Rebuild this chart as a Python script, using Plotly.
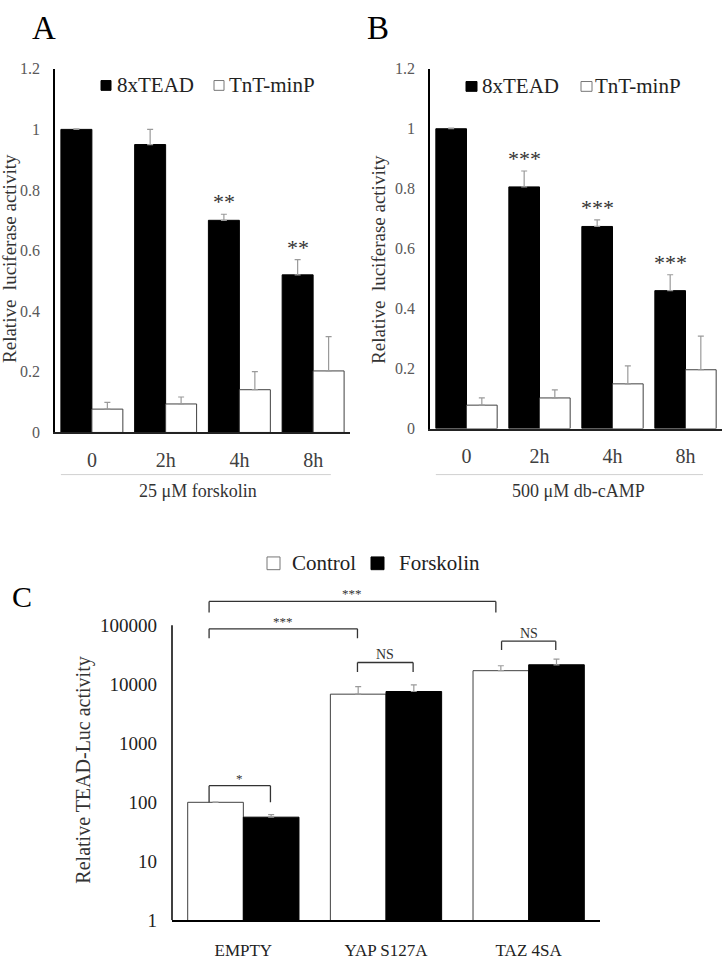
import math
import plotly.graph_objects as go

FONT = "Liberation Serif"

# ---------------- data ----------------
time_labels = ["0", "2h", "4h", "8h"]

a_tead = [1.00, 0.95, 0.70, 0.52]
a_tead_err = [0.002, 0.05, 0.02, 0.05]
a_tnt = [0.077, 0.094, 0.141, 0.203]
a_tnt_err = [0.022, 0.023, 0.06, 0.113]
a_sig = ["", "", "**", "**"]

b_tead = [1.00, 0.806, 0.674, 0.46]
b_tead_err = [0.002, 0.053, 0.022, 0.053]
b_tnt = [0.078, 0.102, 0.149, 0.196]
b_tnt_err = [0.024, 0.027, 0.06, 0.112]
b_sig = ["", "***", "***", "***"]

c_groups = ["EMPTY", "YAP S127A", "TAZ 4SA"]
c_control = [100, 6800, 17000]
c_control_err = [1, 2300, 3600]
c_forsk = [56, 7540, 21400]
c_forsk_err = [6, 2200, 5200]
c_tick_vals = [1, 10, 100, 1000, 10000, 100000]
c_tick_text = ["1", "10", "100", "1000", "10000", "100000"]

# significance brackets for panel C: (x start, x end, top, leg bottom, label)
c_brackets = [
    (-0.24, 1.77, 254000, 164000, "***"),
    (-0.24, 0.80, 87100, 60300, "***"),
    (-0.24, 0.19, 191, 100, "*"),
    (0.80, 1.19, 23400, 16200, "NS"),
    (1.81, 2.19, 53700, 38000, "NS"),
]

W_AB = 0.42
W_C = 0.39
ERR_COLOR = "#9a9a9a"
H = 962
Wd = 725


def px(x):
    return x / Wd


def py(y):
    return 1 - y / H


fig = go.Figure()


def add_time_panel(xa, ya, tead, tead_err, tnt, tnt_err):
    xs = list(range(len(time_labels)))
    fig.add_trace(go.Bar(
        x=xs, y=tead, name="8xTEAD", width=W_AB, offset=-W_AB,
        marker=dict(color="black", line=dict(color="black", width=1)),
        error_y=dict(type="data", symmetric=False, array=tead_err,
                     arrayminus=[0] * len(tead), color=ERR_COLOR,
                     thickness=1.2, width=3),
        xaxis=xa, yaxis=ya, showlegend=False))
    fig.add_trace(go.Bar(
        x=xs, y=tnt, name="TnT-minP", width=W_AB, offset=0,
        marker=dict(color="white", line=dict(color="#404040", width=1)),
        error_y=dict(type="data", symmetric=False, array=tnt_err,
                     arrayminus=[0] * len(tnt), color=ERR_COLOR,
                     thickness=1.2, width=3),
        xaxis=xa, yaxis=ya, showlegend=False))


add_time_panel("x", "y", a_tead, a_tead_err, a_tnt, a_tnt_err)
add_time_panel("x2", "y2", b_tead, b_tead_err, b_tnt, b_tnt_err)

xs_c = list(range(len(c_groups)))
fig.add_trace(go.Bar(
    x=xs_c, y=c_control, name="Control", width=W_C, offset=-W_C,
    marker=dict(color="white", line=dict(color="#404040", width=1)),
    error_y=dict(type="data", symmetric=False, array=c_control_err,
                 arrayminus=[0] * 3, color=ERR_COLOR, thickness=1.2, width=3),
    xaxis="x3", yaxis="y3", showlegend=False))
fig.add_trace(go.Bar(
    x=xs_c, y=c_forsk, name="Forskolin", width=W_C, offset=0,
    marker=dict(color="black", line=dict(color="black", width=1)),
    error_y=dict(type="data", symmetric=False, array=c_forsk_err,
                 arrayminus=[0] * 3, color=ERR_COLOR, thickness=1.2, width=3),
    xaxis="x3", yaxis="y3", showlegend=False))

annotations = []
shapes = []

# stars above black bars in A and B
for xa, ya, vals, errs, sig in [("x", "y", a_tead, a_tead_err, a_sig),
                                ("x2", "y2", b_tead, b_tead_err, b_sig)]:
    for i, s in enumerate(sig):
        if s:
            annotations.append(dict(
                x=i - W_AB / 2, y=vals[i] + errs[i], xref=xa, yref=ya,
                text=s, showarrow=False, yanchor="bottom", yshift=-2,
                font=dict(family=FONT, size=22, color="#333")))

# brackets in C
for x0, x1, top, leg, lab in c_brackets:
    for sx0, sy0, sx1, sy1 in [(x0, leg, x0, top), (x0, top, x1, top), (x1, top, x1, leg)]:
        shapes.append(dict(type="line", xref="x3", yref="y3",
                           x0=sx0, y0=sy0, x1=sx1, y1=sy1,
                           line=dict(color="#333", width=1.3)))
    annotations.append(dict(
        x=(x0 + x1) / 2, y=math.log10(top), xref="x3", yref="y3", text=lab,
        showarrow=False, yanchor="bottom", yshift=-2,
        font=dict(family=FONT, size=13 if "*" in lab else 14, color="#333")))

# C left axis line limited to 1..100000
shapes.append(dict(type="line", xref="x3 domain", yref="y3", x0=0, x1=0,
                   y0=c_tick_vals[0], y1=c_tick_vals[-1],
                   line=dict(color="black", width=1.5)))

# separator lines under time labels
for xr in ["x domain", "x2 domain"]:
    shapes.append(dict(type="line", xref=xr, yref="paper", x0=0.02, x1=0.935,
                       y0=py(476), y1=py(476),
                       line=dict(color="#d0d0d0", width=1)))

# legends (square key + label)
legend_keys = [
    # (label, fill, square left, square right, top, bottom, text x, text y)
    ("8xTEAD", "black", 101, 111, 74, 84, 115, 79),
    ("TnT-minP", "white", 214, 224, 74, 84, 227, 79),
    ("8xTEAD", "black", 466, 477, 75, 85, 480, 80),
    ("TnT-minP", "white", 581, 592, 75, 85, 593, 80),
    ("Control", "white", 267, 280, 560, 573, 290, 566),
    ("Forskolin", "black", 371, 384, 560, 573, 397, 566),
]
for lab, fill, l, r, t, b, tx, ty in legend_keys:
    shapes.append(dict(type="rect", xref="paper", yref="paper",
                       x0=px(l), x1=px(r), y0=py(b), y1=py(t),
                       fillcolor=fill,
                       line=dict(color="black" if fill == "black" else "#777", width=1)))
    annotations.append(dict(x=px(tx), y=py(ty), xref="paper", yref="paper",
                            text=lab, showarrow=False, xanchor="left",
                            yanchor="middle",
                            font=dict(family=FONT, size=21, color="#222")))

# panel letters (anchored at their top edge)
for lab, x, size in [("A", 44, 33), ("B", 378, 33)]:
    annotations.append(dict(x=px(x), y=1, xref="paper", yref="paper",
                            text=lab, showarrow=False, xanchor="center",
                            yanchor="top",
                            font=dict(family=FONT, size=size, color="black")))

text_items = [
    ("C", 22, 600, 30, 0, "black"),
    ("25 μM forskolin", 198, 493, 18, 0, "#333"),
    ("500 μM db-cAMP", 578, 493, 18, 0, "#333"),
    ("Relative  luciferase activity", 10, 256, 19, -90, "#333"),
    ("Relative  luciferase activity", 379, 257, 19, -90, "#333"),
    ("Relative TEAD-Luc activity", 84, 778, 20, -90, "#333"),
]
for t, x, y, s, ang, col in text_items:
    annotations.append(dict(x=px(x), y=py(y), xref="paper", yref="paper",
                            text=t.replace("  ", "\u00a0 "), showarrow=False,
                            textangle=ang, xanchor="center", yanchor="middle",
                            font=dict(family=FONT, size=s, color=col)))

common_y = dict(showgrid=False, zeroline=False, ticks="", showline=True,
                linecolor="black", linewidth=1.5,
                tickfont=dict(family=FONT, size=16, color="#595959"),
                ticklabelstandoff=10)
common_x = dict(showgrid=False, zeroline=False, ticks="", showline=True,
                linecolor="#222", linewidth=1.5,
                tickfont=dict(family=FONT, size=20, color="#404040"),
                ticklabelstandoff=9)

fig.update_layout(
    width=725, height=962,
    margin=dict(l=0, r=0, t=0, b=0),
    paper_bgcolor="white", plot_bgcolor="white",
    font=dict(family=FONT),
    barmode="overlay",
    showlegend=False,
    xaxis=dict(domain=[px(55), px(350)], range=[-0.5, 3.5],
               tickvals=list(range(4)), ticktext=time_labels, anchor="y",
               **common_x),
    yaxis=dict(domain=[py(433), py(62)], range=[0, 1.2], dtick=0.2,
               anchor="x", **common_y),
    xaxis2=dict(domain=[px(430), px(722)], range=[-0.5, 3.5],
                tickvals=list(range(4)), ticktext=time_labels, anchor="y2",
                **common_x),
    yaxis2=dict(domain=[py(429), py(62)], range=[0, 1.2], dtick=0.2,
                anchor="x2", **common_y),
    xaxis3=dict(domain=[px(172), px(600)], range=[-0.5, 2.5],
                tickvals=xs_c, ticktext=c_groups, anchor="y3",
                showgrid=False, zeroline=False, ticks="", showline=True,
                linecolor="black", linewidth=2,
                tickfont=dict(family=FONT, size=17, color="#222"),
                ticklabelstandoff=13),
    yaxis3=dict(domain=[py(930.7), py(930.7 - 5.5 * 60.2)], type="log",
                range=[0, 5.5], tickvals=c_tick_vals, ticktext=c_tick_text,
                anchor="x3", showgrid=False, zeroline=False, ticks="",
                showline=False,
                tickfont=dict(family=FONT, size=19, color="#222"),
                ticklabelstandoff=14),
    annotations=annotations,
    shapes=shapes,
)

fig.write_html("out.html", config={"displayModeBar": False},
               post_script="document.body.style.margin='0px';")
